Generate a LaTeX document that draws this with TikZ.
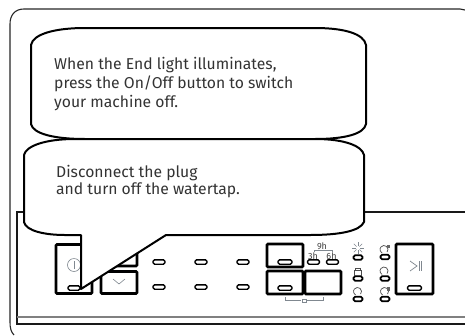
\documentclass[tikz,border=0pt]{standalone}
\usepackage{fontspec}
\setmainfont{Fira Sans}
\definecolor{txt}{HTML}{333333}
\definecolor{icon}{HTML}{808890}
\tikzset{
 x=1pt,y=-1pt,
 frame/.style={draw=black!85,line width=1.1pt},
 bubble/.style={draw=black,fill=white,line width=2pt,line join=round},
 btn/.style={draw=black,line width=2.6pt,fill=white,rounded corners=1pt},
 led/.style={draw=black,line width=1.4pt,fill=white,rounded corners=1.6pt,minimum width=12pt,minimum height=4.4pt,inner sep=0pt},
 ledk/.style={led,minimum width=9pt,line width=1.7pt},
 say/.style={text=txt,font=\fontsize{15.7}{18.6}\selectfont,align=left,anchor=north west,inner sep=0pt},
 ico/.style={draw=icon,line width=.6pt},
 dk/.style={draw=black!70,line width=.7pt},
 tiny/.style={text=black!75,font=\fontsize{9}{9}\selectfont,inner sep=0pt},
}
\begin{document}
\begin{tikzpicture}
\useasboundingbox (0,0) rectangle (465,335);
% outer body
\draw[frame] (14,335) .. controls (11,332) and (10,328) .. (10,322) -- (10,24) .. controls (10,15) and (15,9) .. (24,9) -- (460,9) .. controls (462,9) and (463,9) .. (465,10);
% panel
\draw[line width=1.5pt,black!90] (465,212) -- (17,212) -- (17,324) -- (465,324);
\draw[line width=2pt,black!50] (17,317) -- (465,317);
% buttons
\node[btn,minimum width=36pt,minimum height=49pt,inner sep=0pt] (power) at (74,269) {};
\node[btn,minimum width=36pt,minimum height=22pt,inner sep=0pt] (up) at (119,255) {};
\node[btn,minimum width=36pt,minimum height=22pt,inner sep=0pt] (down) at (119,282.5) {};
\node[btn,minimum width=36pt,minimum height=23pt,inner sep=0pt] (b1) at (285,255.5) {};
\node[btn,minimum width=36pt,minimum height=23pt,inner sep=0pt] (b2) at (285,282.5) {};
\node[btn,minimum width=36pt,minimum height=23pt,inner sep=0pt] (b3) at (323,282.5) {};
\node[btn,minimum width=37pt,minimum height=50pt,inner sep=0pt] (start) at (414.5,269) {};
% icons in buttons
\node[circle,ico,minimum size=13pt,inner sep=0pt] (pw) at (74,265) {};
\draw[ico] (74,261) -- (74,269);
\coordinate (c1) at (113,279); \coordinate (c2) at (119,284); \coordinate (c3) at (125,279);
\draw[ico] (c1) -- (c2) -- (c3);
\draw[ico,line width=.7pt] (410,261) -- (417,266) -- (410,271);
\draw[ico,line width=.7pt] (419,261) -- (419,271);
\draw[ico,line width=.7pt] (421.5,261) -- (421.5,271);
% LEDs
\node[led] (lp) at (74,288) {};
\node[led] (l1) at (159,262) {};
\node[led] (l2) at (159,287) {};
\node[led] (l3) at (201,262) {};
\node[led] (l4) at (201,287) {};
\node[led] (l5) at (243,262) {};
\node[led] (l6) at (243,287) {};
\node[led,minimum width=14pt] (l7) at (285,262) {};
\node[led,minimum width=14pt] (l8) at (285,288) {};
\node[led] (l3h) at (313.5,262) {};
\node[led] (l6h) at (332.5,262) {};
\node[led,minimum width=14pt] (l9) at (414.5,288) {};
\node[ledk] (s1) at (358,257.5) {};
\node[ledk] (s2) at (358,278.5) {};
\node[ledk] (s3) at (358,299) {};
\node[ledk] (s4) at (385,257) {};
\node[ledk] (s5) at (385,278.5) {};
\node[ledk] (s6) at (385,299) {};
% labels over the small LEDs
\node[tiny] (t9) at (322,246.5) {9h};
\node[tiny] (t3) at (313,256.5) {3h};
\node[tiny] (t6) at (331.5,256.5) {6h};
\draw[ico] (314,252) -- (314,250.5) -- (332,250.5) -- (332,252);
\draw[ico] (285,297) -- (285,300) -- (301,300);
\draw[ico] (307,300) -- (323,300) -- (323,297);
\node[draw=icon,line width=.5pt,minimum width=3.5pt,minimum height=3pt,inner sep=0pt] (lk0) at (304,300.5) {};
% sun
\foreach \a in {0,45,...,315}{\draw[ico,line width=.45pt] (358,248)+(\a:2) -- +(\a:6);}
% door lock
\node[dk,draw,minimum width=7pt,minimum height=4.5pt,inner sep=0pt] (lk) at (357.5,273) {};
\draw[dk] (355,270.7) -- (355,268) -- (360,268) -- (360,270.7);
% cycle icons
\draw[dk] (357.5,291.5) ++(40:4) arc[start angle=40,end angle=-240,radius=4];
\draw[dk] (384,249.5) ++(40:4) arc[start angle=40,end angle=-240,radius=4];
\fill[black!60] (386.5,244.5) rectangle (390,248);
\draw[dk] (384,271) ++(40:4) arc[start angle=40,end angle=-240,radius=4];
\draw[dk] (384.5,291.5) ++(40:4) arc[start angle=40,end angle=-240,radius=4];
\fill[black!60] (386.5,287) rectangle (389.5,291);
% callouts
\draw[bubble] (31,45) .. controls (33,34) and (55,28) .. (85,28) -- (315,28) .. controls (345,28) and (364,34) .. (366,45) -- (366,124) .. controls (364,134) and (345,139) .. (315,139) -- (85,139) .. controls (55,139) and (33,134) .. (31,124) -- cycle;
\draw[bubble] (24,155) .. controls (26,146) and (45,139) .. (75,139) -- (315,139) .. controls (345,139) and (362,146) .. (364,155) -- (364,222) .. controls (360,231) and (340,235) .. (310,235) -- (166,235) -- (81,289) -- (81,235) -- (65,235) .. controls (45,235) and (26,231) .. (24,222) -- cycle;
\node[say] (m1) at (54,57.5) {When the End light illuminates,\\press the On/Off button to switch\\your machine off.};
\node[say,font=\fontsize{15.7}{17.5}\selectfont] (m2) at (56,165) {Disconnect the plug\\and turn off the watertap.};
\end{tikzpicture}
\end{document}
